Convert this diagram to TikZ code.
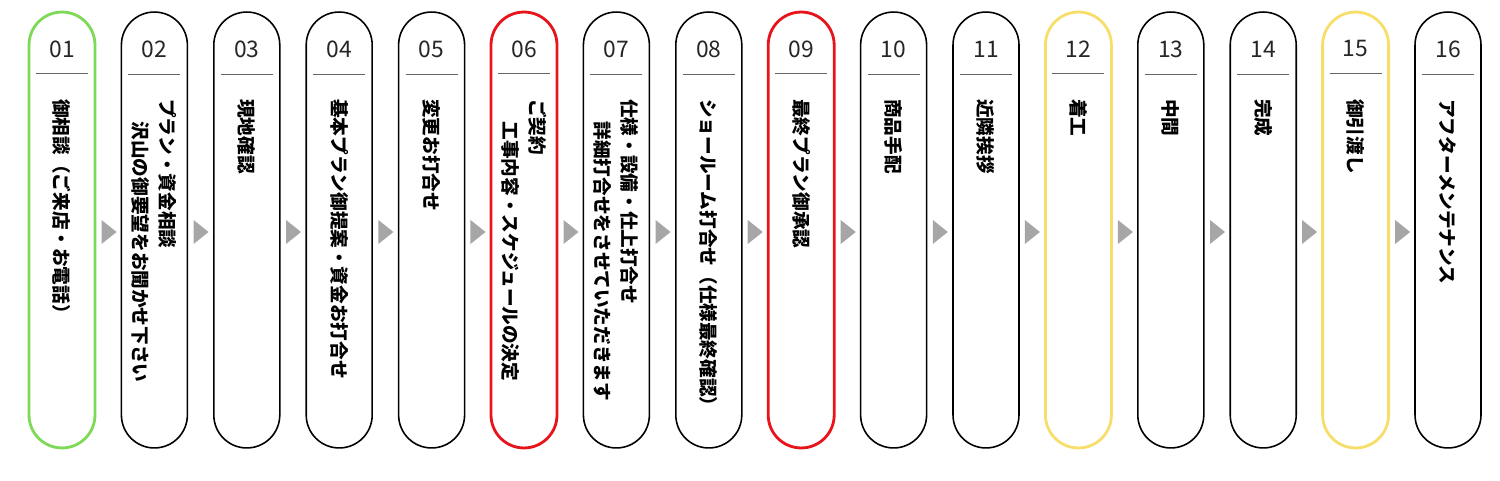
\documentclass[tikz,border=0pt]{standalone}
\usepackage{fontspec}
\setmainfont{Noto Sans CJK JP}
\newfontfamily\numfont{Noto Sans CJK JP}
\usetikzlibrary{positioning,calc}
\definecolor{stepgreen}{HTML}{7ED957}
\definecolor{stepred}{HTML}{E8141B}
\definecolor{stepyellow}{HTML}{F7DE6A}
\definecolor{arrowgray}{HTML}{A6A6A6}

\begin{document}
\begin{tikzpicture}[
    x=0.02cm, y=0.02cm,
    pill/.style={rectangle, rounded corners=0.66cm, minimum width=1.32cm, minimum height=8.72cm, line width=0.9pt, inner sep=0pt},
    num/.style={font=\numfont\fontsize{13}{15}\selectfont, text=black!85},
    steptext/.style={rotate=-90, anchor=west, align=left, inner sep=0pt, font=\bfseries\fontsize{10.6}{15.5}\selectfont},
    flow/.style={fill=arrowgray},
]
    \useasboundingbox (0,0) rectangle (1500,480);
    \foreach \i/\col/\lw/\txt in {
        1/stepgreen/1.6pt/{御相談（ご来店・お電話）},
        2/black/0.9pt/{プラン・資金相談\\\hspace*{1.2em}沢山の御要望をお聞かせ下さい},
        3/black/0.9pt/{現地確認},
        4/black/0.9pt/{基本プラン御提案・資金お打合せ},
        5/black/0.9pt/{変更お打合せ},
        6/stepred/1.6pt/{ご契約\\\hspace*{1.2em}工事内容・スケジュールの決定},
        7/black/0.9pt/{仕様・設備・仕上打合せ\\\hspace*{1.2em}詳細打合せをさせていただきます},
        8/black/0.9pt/{ショールーム打合せ（仕様最終確認）},
        9/stepred/1.6pt/{最終プラン御承認},
        10/black/0.9pt/{商品手配},
        11/black/0.9pt/{近隣挨拶},
        12/stepyellow/1.6pt/{着工},
        13/black/0.9pt/{中間},
        14/black/0.9pt/{完成},
        15/stepyellow/1.6pt/{御引渡し},
        16/black/0.9pt/{アフターメンテナンス}} {
        \pgfmathsetmacro{\cx}{62+92.4*(\i-1)}
        \node[pill, draw=\col, line width=\lw] (p\i) at (\cx,250) {};
        \node[num] (n\i) at (\cx,431) {\ifnum\i<10 0\fi\i};
        \draw[black!60, line width=0.6pt] ($(p\i.north)+(-26,-63)$) -- ($(p\i.north)+(26,-63)$);
        \node[steptext] (t\i) at (\cx,381) {\txt};
    }
    % arrows between the steps
    \foreach \i [evaluate=\i as \j using int(\i+1)] in {1,...,15} {
        \coordinate (m\i) at ($(p\i.east)!0.5!(p\j.west)+(0,-2)$);
        \fill[flow] ($(m\i)+(-7,12)$) -- ($(m\i)+(8,0)$) -- ($(m\i)+(-7,-12)$) -- cycle;
    }
\end{tikzpicture}
\end{document}
